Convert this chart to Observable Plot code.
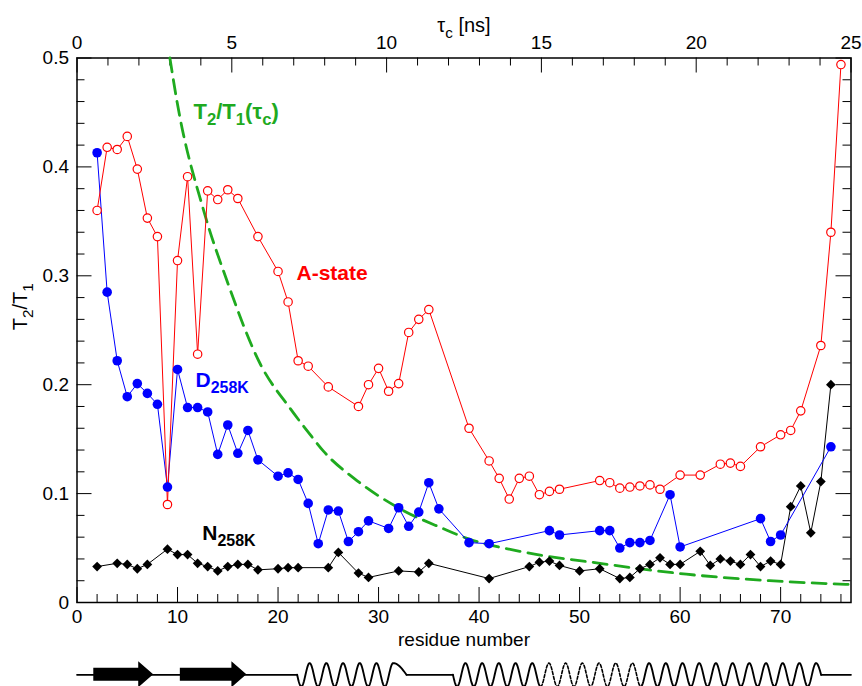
<!DOCTYPE html>
<html><head><meta charset="utf-8">
<script src="https://cdn.jsdelivr.net/npm/d3@7"></script>
<script src="https://cdn.jsdelivr.net/npm/@observablehq/plot@0.6"></script>
<style>
html,body{margin:0;padding:0;background:#fff;}
#chart svg{display:block;}
</style></head><body><div id="chart"></div>
<script>
// ---- data ----
const aResidues = [2,3,4,5,6,7,8,9,10,11,12,13,14,15,16,18,20,21,22,23,25,28,29,30,31,32,33,34,35,39,41,42,43,44,45,46,47,48,52,53,54,55,56,57,58,60,62,64,65,66,68,70,71,72,74,75,76];
const aValues = [0.360,0.418,0.416,0.428,0.398,0.353,0.336,0.090,0.314,0.391,0.228,0.378,0.370,0.379,0.371,0.336,0.304,0.276,0.222,0.217,0.198,0.180,0.200,0.215,0.194,0.201,0.248,0.260,0.269,0.160,0.130,0.114,0.095,0.114,0.116,0.099,0.102,0.104,0.112,0.110,0.105,0.106,0.107,0.108,0.104,0.117,0.117,0.127,0.128,0.125,0.143,0.154,0.158,0.176,0.236,0.340,0.494];

const dResidues = [2,3,4,5,6,7,8,9,10,11,12,13,14,15,16,17,18,20,21,22,23,24,25,26,27,28,29,31,32,33,34,35,36,39,41,47,48,52,53,54,55,56,57,59,60,68,69,70,75];
const dValues = [0.413,0.285,0.222,0.189,0.201,0.192,0.182,0.106,0.214,0.179,0.179,0.175,0.136,0.163,0.137,0.158,0.131,0.116,0.119,0.113,0.091,0.054,0.085,0.084,0.056,0.065,0.075,0.068,0.087,0.070,0.083,0.110,0.086,0.055,0.054,0.066,0.062,0.066,0.066,0.050,0.055,0.055,0.057,0.099,0.051,0.077,0.056,0.062,0.143];

const nResidues = [2,4,5,6,7,9,10,11,12,13,14,15,16,17,18,20,21,22,25,26,28,29,32,34,35,41,45,46,47,48,50,52,54,55,56,57,58,59,60,62,63,64,65,66,67,68,69,70,71,72,73,74,75];
const nValues = [0.033,0.036,0.035,0.031,0.035,0.049,0.044,0.044,0.036,0.033,0.029,0.033,0.035,0.035,0.030,0.031,0.032,0.032,0.032,0.046,0.027,0.023,0.029,0.028,0.036,0.022,0.033,0.037,0.038,0.034,0.029,0.031,0.022,0.023,0.031,0.035,0.041,0.035,0.035,0.047,0.034,0.040,0.038,0.035,0.044,0.033,0.038,0.035,0.088,0.107,0.064,0.111,0.200];

// T2/T1 as a function of tau_c (top axis in ns)
const tauPoints = [3.0,3.23,4.09,4.85,5.92,6.89,7.48,7.96,9.04,10.44,11.73,12.69,14.3,17.0,19.68,22.37,25.0];
const tauValues = [0.500,0.460,0.360,0.295,0.219,0.178,0.156,0.139,0.112,0.086,0.069,0.058,0.047,0.0355,0.026,0.020,0.0165];

const xTickValues = [0,10,20,30,40,50,60,70];
const xTickLabels = ["0","10","20","30","40","50","60","70"];
const yTickValues = [0,0.1,0.2,0.3,0.4,0.5];
const yTickLabels = ["0","0.1","0.2","0.3","0.4","0.5"];
const tauTickValues = [0,5,10,15,20,25];
const tauTickLabels = ["0","5","10","15","20","25"];

// secondary structure (residue numbers)
const strands = [
  {id: "b1", start: 1.67, headStart: 6.14, end: 7.63},
  {id: "b2", start: 10.28, headStart: 15.41, end: 16.9}
];
const helices = [
  {id: "h1", start: 21.9, peaks: 6, tail: 0.8, dashedFrom: null, dashedTo: null},
  {id: "h2", start: 37.4, peaks: 22, tail: 0.3, dashedFrom: 5.25, dashedTo: 11.25}
];

// ---- settings ----
const red = "#ff0000", blue = "#0000ff", green = "#1faa1f";
const W = 862, H = 652;
const mL = 76.5, mR = 11.5, mT = 57.5, mB = 50;
const innerW = W - mL - mR, innerH = H - mT - mB;
const xMax = 77, tauMax = 25;
const tauToX = t => t * xMax / tauMax;
const font = "'Liberation Sans', Arial, Helvetica, sans-serif";

const aData = aResidues.map((r, i) => ({r, v: aValues[i]}));
const dData = dResidues.map((r, i) => ({r, v: dValues[i]}));
const nData = nResidues.map((r, i) => ({r, v: nValues[i]}));
const gData = tauPoints.map((t, i) => ({x: tauToX(t), v: tauValues[i]}));

const yMinor = d3.range(0, 0.5001, 0.02).filter(v => Math.abs(v * 10 - Math.round(v * 10)) > 1e-6);
const xMinor = d3.range(2, 77, 2).filter(v => v % 10 !== 0);
const tauMinor = d3.range(1, 25, 1).filter(v => v % 5 !== 0).map(tauToX);
const tauMajorX = tauTickValues.map(tauToX);

const main = Plot.plot({
  width: W, height: H,
  marginLeft: mL, marginRight: mR, marginTop: mT, marginBottom: mB,
  x: {domain: [0, xMax]},
  y: {domain: [0, 0.5]},
  style: {fontFamily: font, fontSize: "19px", background: "white", color: "black"},
  marks: [
    // inward ticks
    Plot.tickY(yTickValues, {y: d => d, insetRight: innerW - 15, stroke: "black"}),
    Plot.tickY(yTickValues, {y: d => d, insetLeft: innerW - 15, stroke: "black"}),
    Plot.tickY(yMinor, {y: d => d, insetRight: innerW - 8, stroke: "black"}),
    Plot.tickY(yMinor, {y: d => d, insetLeft: innerW - 8, stroke: "black"}),
    Plot.tickX(xTickValues, {x: d => d, insetTop: innerH - 15, stroke: "black"}),
    Plot.tickX(xMinor, {x: d => d, insetTop: innerH - 8, stroke: "black"}),
    Plot.tickX(tauMajorX, {x: d => d, insetBottom: innerH - 15, stroke: "black"}),
    Plot.tickX(tauMinor, {x: d => d, insetBottom: innerH - 8, stroke: "black"}),
    Plot.frame({stroke: "black", strokeWidth: 1.5}),
    // tick labels
    Plot.axisY(yTickValues, {anchor: "left", tickSize: 0, tickPadding: 8, label: null, fontSize: 19,
      tickFormat: d => yTickLabels[yTickValues.indexOf(d)]}),
    Plot.axisX(xTickValues, {anchor: "bottom", tickSize: 0, tickPadding: 7, label: null, fontSize: 19,
      tickFormat: d => xTickLabels[xTickValues.indexOf(d)]}),
    Plot.axisX(tauMajorX, {anchor: "top", tickSize: 0, tickPadding: 9, label: null, fontSize: 19,
      tickFormat: d => tauTickLabels[tauMajorX.indexOf(d)]}),
    // axis titles
    Plot.text(["T_2/T_1"], {text: d => d, frameAnchor: "left", dx: -56, rotate: -90, fontSize: 20}),
    Plot.text(["residue number"], {text: d => d, frameAnchor: "bottom", dy: 43, lineAnchor: "bottom", fontSize: 19}),
    Plot.text(["τ_c [ns]"], {text: d => d, frameAnchor: "top", dy: -26, lineAnchor: "bottom", fontSize: 20}),
    // theoretical curve
    Plot.line(gData, {x: "x", y: "v", stroke: green, strokeWidth: 2.8, strokeDasharray: "14,8", curve: "monotone-x"}),
    // series
    Plot.line(nData, {x: "r", y: "v", stroke: "black", strokeWidth: 1}),
    Plot.line(dData, {x: "r", y: "v", stroke: blue, strokeWidth: 1}),
    Plot.line(aData, {x: "r", y: "v", stroke: red, strokeWidth: 1}),
    Plot.dot(nData, {x: "r", y: "v", symbol: "diamond2", r: 4.4, fill: "black"}),
    Plot.dot(dData, {x: "r", y: "v", r: 4.8, fill: blue}),
    Plot.dot(aData, {x: "r", y: "v", r: 4.2, fill: "white", stroke: red, strokeWidth: 1.2}),
    // series labels
    Plot.text([{t: "T_2/T_1(τ_c)", x: 11.59, y: 0.444}], {x: "x", y: "y", text: "t", fill: green, fontSize: 22, fontWeight: "bold", textAnchor: "start", lineAnchor: "bottom"}),
    Plot.text([{t: "A-state", x: 21.84, y: 0.296}], {x: "x", y: "y", text: "t", fill: red, fontSize: 21, fontWeight: "bold", textAnchor: "start", lineAnchor: "bottom"}),
    Plot.text([{t: "D_258K", x: 11.79, y: 0.198}], {x: "x", y: "y", text: "t", fill: blue, fontSize: 21, fontWeight: "bold", textAnchor: "start", lineAnchor: "bottom"}),
    Plot.text([{t: "N_258K", x: 12.46, y: 0.057}], {x: "x", y: "y", text: "t", fill: "black", fontSize: 21, fontWeight: "bold", textAnchor: "start", lineAnchor: "bottom"})
  ]
});

// ---- secondary structure strip ----
const P = 1.661, A = 0.9;
function helixSegments(h) {
  const pts = [];
  const thetaPeak = Math.PI + 1.5 * Math.PI + (h.peaks - 1) * 2 * Math.PI;
  const n = h.peaks * 40;
  for (let k = 0; k <= n; k++) {
    const th = Math.PI + (thetaPeak - Math.PI) * k / n;
    const f = (th - Math.PI) / (2 * Math.PI);
    pts.push({x: h.start + f * P, y: A * Math.sin(th), f});
  }
  const xp = pts[pts.length - 1].x;
  const endF = pts[pts.length - 1].f;
  for (let k = 1; k <= 12; k++) {
    const t = k / 12;
    pts.push({x: xp + t * h.tail * P, y: A * Math.cos(Math.PI / 2 * t), f: endF + t * h.tail});
  }
  const out = [];
  pts.forEach(p => {
    let seg;
    if (h.dashedFrom == null) seg = "s0";
    else if (p.f < h.dashedFrom) seg = "s0";
    else if (p.f <= h.dashedTo) seg = "d";
    else seg = "s1";
    out.push({...p, z: h.id + seg, dashed: seg === "d"});
  });
  const res = [];
  for (let i = 0; i < out.length; i++) {
    if (i > 0 && out[i].z !== out[i - 1].z) res.push({...out[i - 1], z: out[i].z, dashed: out[i].dashed});
    res.push(out[i]);
  }
  return {pts: res, end: xp + h.tail * P};
}
const hs = helices.map(helixSegments);
const helixPts = hs.flatMap(h => h.pts);
const baseline = [
  {x: 0, y: 0, z: "l0"}, {x: helices[0].start, y: 0, z: "l0"},
  {x: hs[0].end, y: 0, z: "l1"}, {x: helices[1].start, y: 0, z: "l1"},
  {x: hs[1].end, y: 0, z: "l2"}, {x: xMax, y: 0, z: "l2"}
];
const arrowPts = strands.flatMap(s => [
  {id: s.id, x: s.start, y1: -0.5, y2: 0.5},
  {id: s.id, x: s.headStart, y1: -0.5, y2: 0.5},
  {id: s.id, x: s.headStart, y1: -1, y2: 1},
  {id: s.id, x: s.end, y1: 0, y2: 0}
]);

const strip = Plot.plot({
  width: W, height: 34,
  marginLeft: mL, marginRight: mR, marginTop: 0, marginBottom: 0,
  x: {domain: [0, xMax], axis: null},
  y: {domain: [-1, 1], range: [35.3, 9.3], axis: null},
  style: {background: "white"},
  marks: [
    Plot.line(baseline, {x: "x", y: "y", z: "z", stroke: "black", strokeWidth: 1.7}),
    Plot.areaY(arrowPts, {x: "x", y1: "y1", y2: "y2", z: "id", fill: "black", curve: "linear"}),
    Plot.line(helixPts.filter(d => !d.dashed), {x: "x", y: "y", z: "z", stroke: "black", strokeWidth: 1.9}),
    Plot.line(helixPts.filter(d => d.dashed), {x: "x", y: "y", z: "z", stroke: "black", strokeWidth: 1.6, strokeDasharray: "3,2"})
  ]
});

const chart = document.getElementById("chart");
chart.appendChild(main);
chart.appendChild(strip);

// subscripts: "_xyz" -> subscript tspan
function applySubscripts(svg, ratio = 0.76, shift = 0.28) {
  const ns = "http://www.w3.org/2000/svg";
  svg.querySelectorAll("text").forEach(el => {
    const s = el.textContent;
    if (!s.includes("_")) return;
    const fs = parseFloat(getComputedStyle(el).fontSize) || 18;
    const parts = s.split(/_([A-Za-z0-9]+)/);
    while (el.firstChild) el.removeChild(el.firstChild);
    let shifted = false;
    parts.forEach((p, i) => {
      if (p === "") return;
      const ts = document.createElementNS(ns, "tspan");
      ts.textContent = p;
      if (i % 2 === 1) {
        ts.setAttribute("font-size", fs * ratio);
        if (!shifted) ts.setAttribute("dy", fs * shift);
        shifted = true;
      } else if (shifted) {
        ts.setAttribute("dy", -fs * shift);
        shifted = false;
      }
      el.appendChild(ts);
    });
  });
}
applySubscripts(main);
</script>
</body></html>
